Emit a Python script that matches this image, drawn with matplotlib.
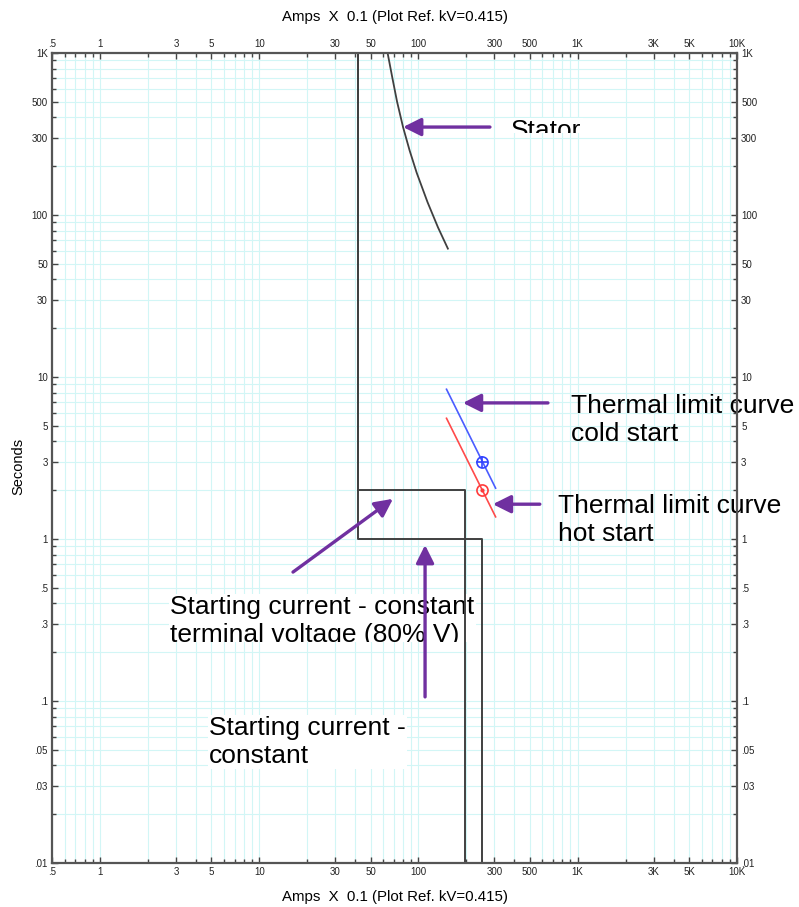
import matplotlib
matplotlib.use("Agg")
import matplotlib.pyplot as plt
from matplotlib.ticker import FixedLocator, FixedFormatter, NullFormatter
from matplotlib.transforms import Bbox, TransformedBbox

plt.rcParams["font.family"] = ["Liberation Sans", "DejaVu Sans"]

# ── 数据 (Amps x0.1 / Seconds) ──
start_v80_x = [42, 42, 195, 195]
start_v80_y = [1000, 2, 2, 0.01]
start_const_x = [42, 42, 250, 250]
start_const_y = [1000, 1, 1, 0.01]

stator_x = [64, 68.6, 73.4, 80, 88, 97.5, 114, 132.5, 153]
stator_y = [1000, 700, 500, 349, 250, 182, 120, 84, 62]

cold_x = [150, 305]
cold_y = [8.4, 2.06]
cold_pt = (250, 3.0)
hot_x = [150, 305]
hot_y = [5.56, 1.37]
hot_pt = (250, 2.0)

x_major = [0.5, 1, 3, 5, 10, 30, 50, 100, 300, 500, 1000, 3000, 5000, 10000]
x_major_lbl = [".5", "1", "3", "5", "10", "30", "50", "100", "300", "500", "1K", "3K", "5K", "10K"]
y_major = [0.01, 0.03, 0.05, 0.1, 0.3, 0.5, 1, 3, 5, 10, 30, 50, 100, 300, 500, 1000]
y_major_lbl = [".01", ".03", ".05", ".1", ".3", ".5", "1", "3", "5", "10", "30", "50", "100", "300", "500", "1K"]

PURPLE = "#7030a0"
W, H = 799, 907


def all_ticks(lo, hi):
    out = []
    d = 1e-3
    while d <= hi:
        for m in range(1, 10):
            v = round(m * d, 6)
            if lo <= v <= hi:
                out.append(v)
        d *= 10
    return out


fig = plt.figure(figsize=(W / 100, H / 100), dpi=100)
ax = fig.add_axes([52 / W, 1 - 863 / H, (737 - 52) / W, (863 - 53) / H])
ax.set_xscale("log")
ax.set_yscale("log")
ax.set_xlim(0.5, 10000)
ax.set_ylim(0.01, 1000)
ax.set_axisbelow(True)

xt = all_ticks(0.5, 10000)
yt = all_ticks(0.01, 1000)
ax.xaxis.set_major_locator(FixedLocator(x_major))
ax.xaxis.set_major_formatter(FixedFormatter(x_major_lbl))
ax.xaxis.set_minor_locator(FixedLocator([v for v in xt if v not in x_major]))
ax.xaxis.set_minor_formatter(NullFormatter())
ax.yaxis.set_major_locator(FixedLocator(y_major))
ax.yaxis.set_major_formatter(FixedFormatter(y_major_lbl))
ax.yaxis.set_minor_locator(FixedLocator([v for v in yt if v not in y_major]))
ax.yaxis.set_minor_formatter(NullFormatter())

ax.grid(True, which="both", color="#d2f6f6", lw=0.8)
ax.tick_params(which="both", direction="in", top=True, right=True,
               labeltop=True, labelright=True, color="#444444", width=1.0)
ax.tick_params(which="major", length=4, labelsize=7, pad=3, labelcolor="#222222")
ax.tick_params(which="minor", length=3)
for s in ax.spines.values():
    s.set_color("#555555")
    s.set_linewidth(1.6)

# 曲线
ax.plot(start_v80_x, start_v80_y, color="#404040", lw=1.4, zorder=2)
ax.plot(start_const_x, start_const_y, color="#404040", lw=1.4, zorder=2)
ax.plot(stator_x, stator_y, color="#404040", lw=1.3, zorder=2, solid_joinstyle="round")
ax.plot(cold_x, cold_y, color="#4a5cff", lw=1.2, zorder=2)
ax.plot(hot_x, hot_y, color="#ff4a4a", lw=1.2, zorder=2)
ax.plot(*cold_pt, marker="o", ms=8, mfc="none", mec="#3344ff", mew=1.2, zorder=3)
ax.plot(*cold_pt, marker="+", ms=8, color="#3344ff", mew=1.2, zorder=3)
ax.plot(*hot_pt, marker="o", ms=8, mfc="none", mec="#ff3b3b", mew=1.2, zorder=3)
ax.plot(*hot_pt, marker=".", ms=4, color="#ff3b3b", zorder=3)

# 箭头 (tip, tail)
arrows = [
    ((80, 349), (281, 349)),
    ((190, 6.92), (650, 6.92)),
    ((293, 1.64), (578, 1.64)),
    ((69.2, 1.77), (16.3, 0.625)),
    ((110, 0.918), (110, 0.106)),
]
for tip, tail in arrows:
    ax.annotate("", xy=tip, xytext=tail, annotation_clip=False, zorder=4,
                arrowprops=dict(arrowstyle="-|>", color=PURPLE, lw=2.4,
                                mutation_scale=27, shrinkA=0, shrinkB=0))


def label(px, py, s, clip_py=None, box=True):
    bbox = dict(facecolor="white", edgecolor="none", pad=1) if box else None
    t = ax.text(px / W, 1 - py / H, s, transform=fig.transFigure, fontsize=19,
                va="top", ha="left", linespacing=1.22, zorder=1.5, bbox=bbox)
    t.set_clip_path(None)
    if clip_py is not None:
        t.set_clip_on(True)
        t.set_clip_box(TransformedBbox(Bbox([[0, 1 - clip_py / H], [1, 1]]), fig.transFigure))
    else:
        t.set_clip_on(False)
    return t


label(511, 119, "Stator", clip_py=133)
label(571, 394, "Thermal limit curve\ncold start", box=False)
label(558, 494, "Thermal limit curve\nhot start", box=False)
label(170, 595, "Starting current - constant\nterminal voltage (80% V)", clip_py=642)
label(209, 716, "Starting current -\nconstant")

fig.text(395 / W, 1 - 17 / H, "Amps  X  0.1 (Plot Ref. kV=0.415)", ha="center", va="center", fontsize=10.8)
fig.text(395 / W, 1 - 897 / H, "Amps  X  0.1 (Plot Ref. kV=0.415)", ha="center", va="center", fontsize=10.8)
fig.text(18 / W, 1 - 466 / H, "Seconds", ha="center", va="center", rotation=90, fontsize=10.5)

fig.savefig("out.png", dpi=100)
plt.close(fig)
